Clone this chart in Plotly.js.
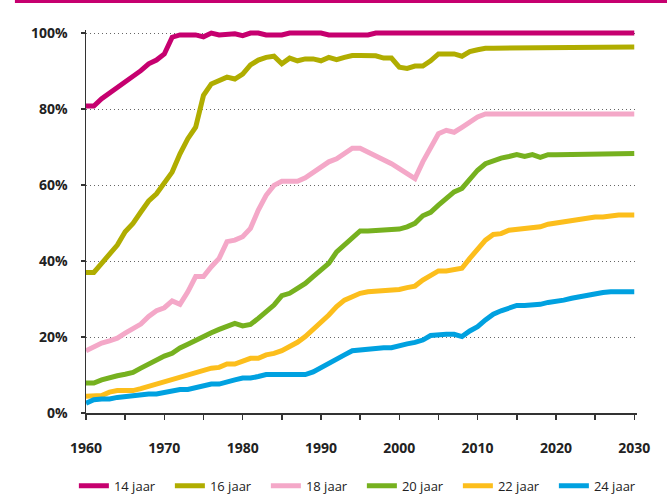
<!DOCTYPE html>
<html>
<head>
<meta charset="utf-8">
<script src="https://cdn.plot.ly/plotly-3.0.1.min.js"></script>
<style>
html,body{margin:0;padding:0;background:#fff;}
#chart{width:667px;height:501px;}
</style>
</head>
<body>
<div id="chart"></div>
<script>
var years = [1960,1961,1962,1963,1964,1965,1966,1967,1968,1969,
             1970,1971,1972,1973,1974,1975,1976,1977,1978,1979,
             1980,1981,1982,1983,1984,1985,1986,1987,1988,1989,
             1990,1991,1992,1993,1994,1995,1996,1997,1998,1999,
             2000,2001,2002,2003,2004,2005,2006,2007,2008,2009,
             2010,2011,2012,2013,2014,2015,2016,2017,2018,2019,
             2020,2021,2022,2023,2024,2025,2026,2027,2028,2029,2030];

var jaar14 = [80.8,80.8,82.7,84.2,85.5,86.9,88.4,90.1,91.9,92.9,
              94.5,98.9,99.5,99.5,99.5,99.0,100,99.5,99.5,99.8,
              99.3,100,100,99.5,99.5,99.5,100,100,100,100,
              100,99.5,99.5,99.5,99.5,99.5,99.5,100,100,100,
              100,100,100,100,100,100,100,100,100,100,
              100,100,100,100,100,100,100,100,100,100,
              100,100,100,100,100,100,100,100,100,100,100];

var jaar16 = [37.0,37.0,39.4,41.6,44.2,47.7,49.9,52.9,55.8,57.7,
              60.4,63.4,68.2,72.2,75.2,83.6,86.6,87.5,88.4,87.9,
              89.2,91.6,92.9,93.6,93.9,91.9,93.4,92.7,93.2,93.2,
              92.7,93.6,93.0,93.6,94.1,94.1,94.1,94.0,93.4,93.4,
              91.0,90.7,91.3,91.3,92.7,94.5,94.5,94.5,93.9,95.1,
              95.6,96.0,96.0,96.0,96.3,96.3,96.3,96.3,96.3,96.3,
              96.3,96.3,96.3,96.3,96.3,96.3,96.3,96.3,96.3,96.3,96.3];

var jaar18 = [16.4,17.5,18.4,19.0,19.7,21.0,22.3,23.4,25.4,26.9,
              27.7,29.5,28.6,31.9,35.9,35.9,38.5,40.7,45.1,45.5,
              46.4,48.6,53.4,57.3,59.9,61.0,61.0,61.0,61.9,63.3,
              64.7,66.1,66.9,68.2,69.7,69.7,68.7,67.8,66.9,65.6,
              64.3,63.0,61.7,66.1,69.6,73.5,74.4,73.9,75.2,76.6,
              77.9,78.7,78.7,78.7,78.7,78.7,78.7,78.6,78.4,78.4,
              78.4,78.4,78.4,78.4,78.7,78.7,78.7,78.7,78.7,78.7,78.7];

var jaar20 = [7.9,7.9,8.7,9.4,9.8,10.2,10.7,11.8,12.9,14.0,
              15.0,15.7,17.1,18.1,19.2,20.1,21.1,22.0,22.7,23.6,
              22.9,23.3,24.9,26.7,28.4,30.9,31.5,32.8,34.1,35.9,
              37.6,39.4,42.4,44.2,46.4,47.9,47.9,48.0,48.4,48.4,
              48.4,49.0,49.9,51.9,52.8,54.7,56.4,58.2,59.1,61.7,
              63.9,65.6,66.5,67.1,67.5,68.0,67.5,68.0,67.3,68.0,
              68.0,68.0,68.0,68.0,68.3,68.3,68.3,68.3,68.3,68.3,68.3];

var jaar22 = [4.4,4.6,4.6,5.5,5.9,5.9,5.9,6.4,7.0,7.4,
              8.1,8.7,9.4,10.1,10.5,11.1,11.8,12.0,12.9,12.9,
              13.6,14.4,14.4,15.3,15.7,16.4,17.5,18.6,20.1,21.9,
              23.6,25.8,28.0,29.7,30.6,31.5,31.9,32.0,32.2,32.5,
              32.5,33.0,33.4,35.0,36.3,37.4,37.4,37.8,38.1,40.7,
              43.1,45.5,47.0,47.2,48.1,48.4,48.4,48.8,49.0,49.7,
              50.0,50.3,50.5,51.0,51.4,51.6,51.6,51.9,52.1,52.1,52.1];

var jaar24 = [2.6,3.5,3.7,3.7,4.1,4.4,4.4,4.8,5.0,5.0,
              5.5,5.9,6.2,6.2,6.7,7.3,7.6,7.6,8.3,8.7,
              9.2,9.2,9.6,10.1,10.1,10.1,10.1,10.1,10.1,10.8,
              12.0,13.1,14.4,15.3,16.4,16.6,17.1,17.2,17.2,17.2,
              17.8,18.2,18.6,19.2,20.4,20.7,20.7,20.7,20.1,21.6,
              22.7,24.5,26.0,26.9,27.7,28.3,28.3,28.3,28.6,29.1,
              29.3,29.7,30.2,30.6,31.1,31.4,31.7,31.9,31.9,31.9,31.9];

var seriesNames = ['14 jaar','16 jaar','18 jaar','20 jaar','22 jaar','24 jaar'];
var seriesColors = ['#c6006f','#b0ad00','#f4a8c8','#76b11f','#fcbe1c','#00a1e0'];
var seriesData = [jaar14, jaar16, jaar18, jaar20, jaar22, jaar24];

var xTickVals = [1960,1965,1970,1975,1980,1985,1990,1995,2000,2005,2010,2015,2020,2025,2030];
var xTickText = ['1960','','1970','','1980','','1990','','2000','','2010','','2020','','2030'];
var yTickVals = [0,20,40,60,80,100];
var yTickText = ['0%','20%','40%','60%','80%','100%'];

var traces = seriesData.map(function(vals, i){
  return {
    x: years, y: vals, name: seriesNames[i], type: 'scatter', mode: 'lines',
    line: {color: seriesColors[i], width: 5, shape: 'linear'},
    hoverinfo: 'skip'
  };
});

var layout = {
  width: 667, height: 501,
  margin: {l: 86, r: 30.2, t: 29.5, b: 87.5, pad: 0, autoexpand: false},
  paper_bgcolor: '#ffffff', plot_bgcolor: '#ffffff',
  font: {family: '"Open Sans", sans-serif', color: '#222222'},
  showlegend: true,
  xaxis: {
    range: [1960, 2030.35], tickmode: 'array', tickvals: xTickVals, ticktext: xTickText,
    automargin: false,
    showgrid: false, zeroline: false, showline: true, linecolor: '#333333', linewidth: 1.5,
    ticks: 'outside', ticklen: 5, tickwidth: 1.5, tickcolor: '#333333',
    ticklabelstandoff: 17,
    tickfont: {family: '"Open Sans", sans-serif', size: 14, weight: 'bold', color: '#222222'}
  },
  yaxis: {
    range: [0, 100.8], tickmode: 'array', tickvals: yTickVals, ticktext: yTickText,
    automargin: false,
    showgrid: true, gridcolor: '#666666', gridwidth: 1, griddash: '1px,3px',
    zeroline: false, showline: true, linecolor: '#333333', linewidth: 1.5,
    ticks: 'outside', ticklen: 4, tickwidth: 1.5, tickcolor: '#333333',
    ticklabelstandoff: 10,
    tickfont: {family: '"Open Sans", sans-serif', size: 14, weight: 'bold', color: '#222222'}
  },
  legend: {
    orientation: 'h', x: -0.022, xanchor: 'left', y: -0.19, yanchor: 'middle',
    font: {family: '"Open Sans", sans-serif', size: 13, color: '#222222'},
    bgcolor: 'rgba(0,0,0,0)', itemwidth: 30, tracegroupgap: 0,
    entrywidth: 51, entrywidthmode: 'pixels'
  },
  shapes: [
    {type: 'rect', xref: 'paper', yref: 'paper', x0: -0.129, x1: 1.06, y0: 1.0703, y1: 1.08,
     fillcolor: '#c6006f', line: {width: 0}}
  ]
};

Plotly.newPlot('chart', traces, layout, {staticPlot: true, displayModeBar: false});
</script>
</body>
</html>
